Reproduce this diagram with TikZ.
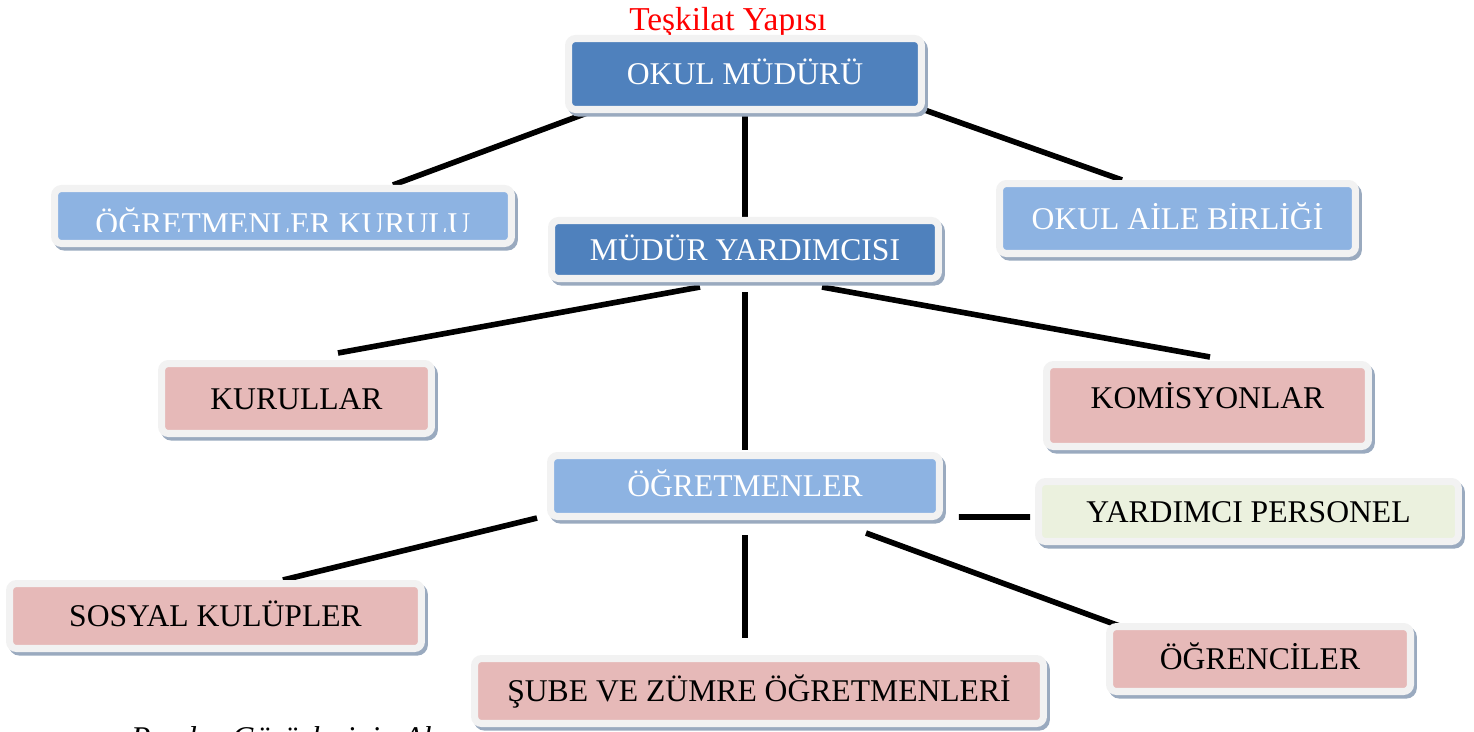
\documentclass[tikz,border=0pt]{standalone}
\usepackage{fontspec}
\setmainfont{Liberation Serif}
\usetikzlibrary{shadows,calc,backgrounds}
\definecolor{koyumavi}{HTML}{4F81BD}
\definecolor{acikmavi}{HTML}{8DB3E2}
\definecolor{pembe}{HTML}{E6B9B8}
\definecolor{yesil}{HTML}{EBF1DE}
\definecolor{cerceve}{HTML}{F2F2F2}
\definecolor{golge}{HTML}{9AAABF}
\tikzset{
  kutu/.style={rectangle,rounded corners=4pt,draw=cerceve,line width=4pt,inner sep=0pt,
    text height=12pt,text depth=0pt,font=\fontsize{18}{20}\selectfont,
    drop shadow={shadow xshift=1.6pt,shadow yshift=-2pt,opacity=1,fill=golge,draw=golge,line width=4pt}},
  koyu/.style={kutu,fill=koyumavi,text=white},
  acik/.style={kutu,fill=acikmavi,text=white},
  pembekutu/.style={kutu,fill=pembe,text=black},
  yesilkutu/.style={kutu,fill=yesil,text=black},
  cizgi/.style={line width=3.2pt,black}
}

\begin{document}
\begin{tikzpicture}[x=0.02cm,y=-0.02cm]
  \clip (0,0) rectangle (1474,731);
  \node[anchor=base west,font=\fontsize{18}{20}\selectfont\itshape] (not) at (125,748) {Paydaş Görüşlerinin Alınması};
  \node[anchor=base,text=red,font=\fontsize{19}{21}\selectfont] (baslik) at (728,30) {Teşkilat Yapısı};
  \node[koyu,minimum width=7.06cm,minimum height=1.42cm] (om) at (745,74) {OKUL MÜDÜRÜ};
  \node[acik,minimum width=9.14cm,minimum height=1.10cm] (okk) at (283,216) {};
  \begin{scope}
    \clip (58,192) rectangle (508,231);
    \node[anchor=base,text=white,font=\fontsize{18}{20}\selectfont] (okkyazi) at (283,234) {ÖĞRETMENLER KURULU};
  \end{scope}
  \node[acik,minimum width=7.12cm,minimum height=1.40cm] (oab) at (1177.5,218.5) {OKUL AİLE BİRLİĞİ};
  \node[koyu,minimum width=7.74cm,minimum height=1.16cm] (my) at (745,249.5) {MÜDÜR YARDIMCISI};
  \node[pembekutu,minimum width=5.40cm,minimum height=1.40cm] (kur) at (296.5,398.5) {KURULLAR};
  \node[pembekutu,text depth=9pt,minimum width=6.44cm,minimum height=1.64cm] (kom) at (1207.5,405.5) {KOMİSYONLAR};
  \node[acik,minimum width=7.78cm,minimum height=1.22cm] (ogr) at (745,486) {ÖĞRETMENLER};
  \node[yesilkutu,minimum width=8.40cm,minimum height=1.20cm] (yp) at (1248.5,511.5) {YARDIMCI PERSONEL};
  \node[pembekutu,minimum width=8.24cm,minimum height=1.30cm] (sk) at (215.5,616) {SOSYAL KULÜPLER};
  \node[pembekutu,minimum width=11.38cm,minimum height=1.30cm] (sz) at (759,691) {ŞUBE VE ZÜMRE ÖĞRETMENLERİ};
  \node[pembekutu,minimum width=6.02cm,minimum height=1.30cm] (oo) at (1260,659) {ÖĞRENCİLER};
  \begin{pgfonlayer}{background}
    \draw[cizgi] ([xshift=0.44cm]om.south west) -- ([xshift=6.84cm]okk.north west);
    \draw[cizgi] (om.south) -- (my.north);
    \draw[cizgi] ([xshift=-0.12cm,yshift=0.1cm]om.south east) -- ([xshift=2.52cm]oab.north west);
    \draw[cizgi] ([xshift=3.04cm,yshift=-0.1cm]my.south west) -- ([xshift=3.6cm,yshift=0.14cm]kur.north west);
    \draw[cizgi] ([yshift=-0.2cm]my.south) -- ([yshift=0.04cm]ogr.north);
    \draw[cizgi] ([xshift=-2.4cm,yshift=-0.1cm]my.south east) -- ([xshift=3.34cm,yshift=0.08cm]kom.north west);
    \draw[cizgi] ([xshift=-0.2cm,yshift=0.04cm]ogr.south west) -- ([xshift=5.54cm]sk.north west);
    \draw[cizgi] ([xshift=0.32cm,yshift=0.06cm]ogr.south east) -- ([xshift=-0.1cm,yshift=-0.11cm]yp.west);
    \draw[cizgi] ([yshift=-0.3cm]ogr.south) -- ($(ogr.south |- sz.north)+(0,0.34cm)$);
    \draw[cizgi] ([xshift=-1.54cm,yshift=-0.26cm]ogr.south east) -- ([xshift=0.38cm,yshift=-0.1cm]oo.north west);
  \end{pgfonlayer}
\end{tikzpicture}
\end{document}
